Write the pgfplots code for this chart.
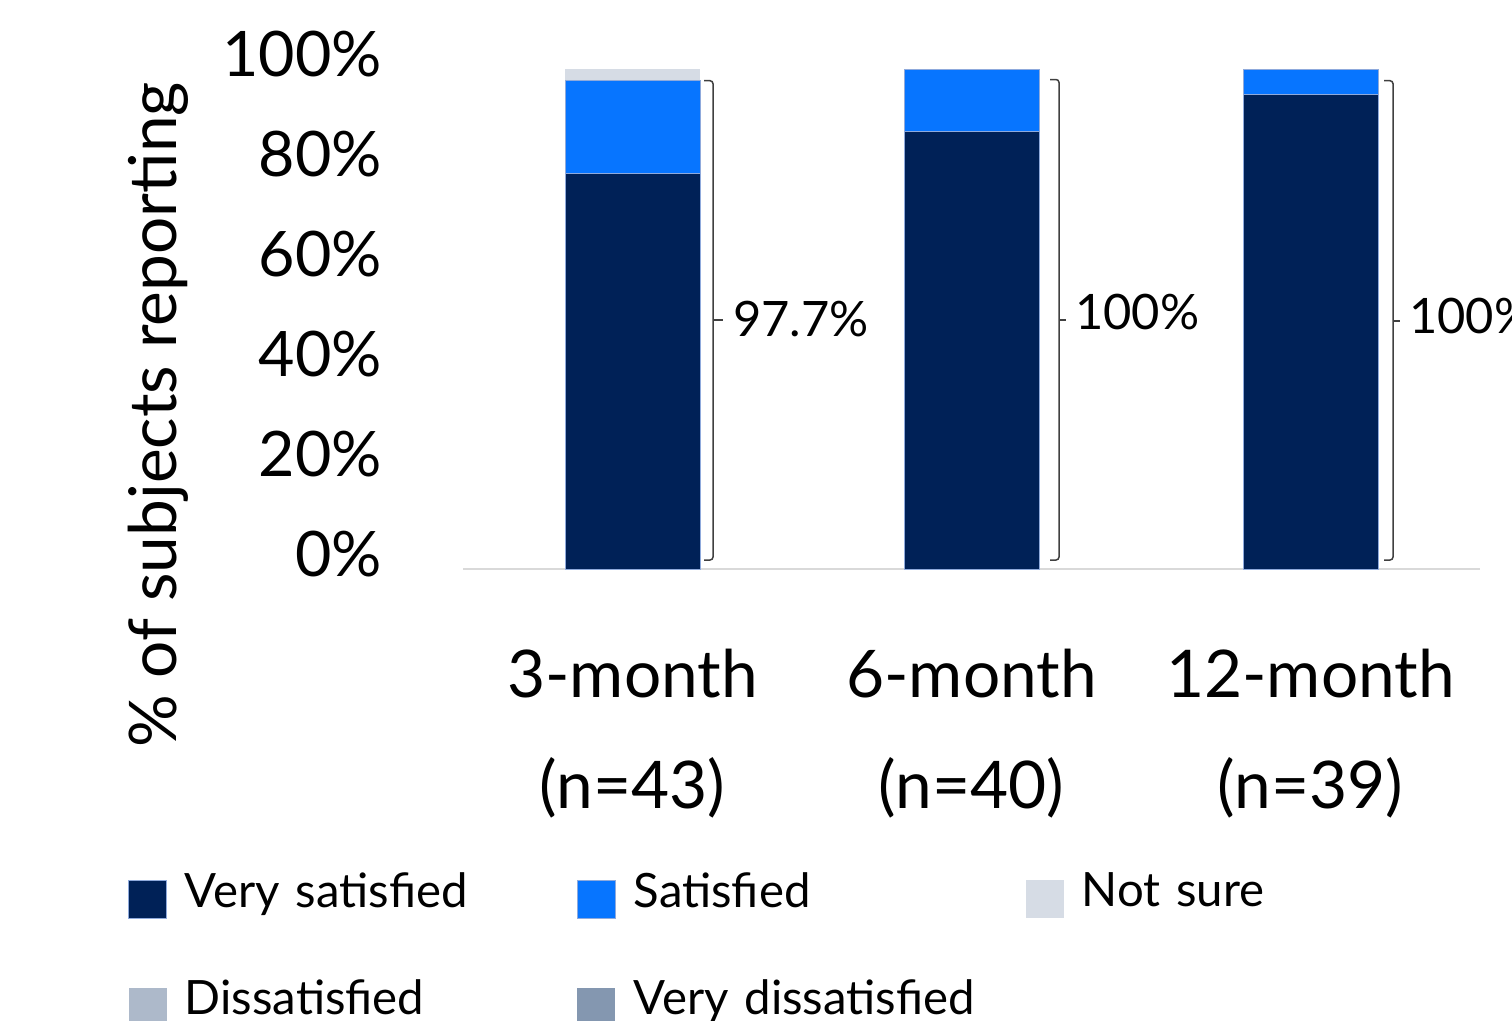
\documentclass[border=0pt]{standalone}
\usepackage{fontspec}
\setmainfont{Lato}
\usepackage{pgfplots}
\pgfplotsset{compat=1.18}

\definecolor{vsat}{HTML}{002157}
\definecolor{sat}{HTML}{0775FF}
\definecolor{notsure}{HTML}{D6DCE5}
\definecolor{dissat}{HTML}{ADB9CA}
\definecolor{vdissat}{HTML}{8497B0}
\definecolor{baredge}{HTML}{8FAADC}
\definecolor{bracecol}{HTML}{404040}
\definecolor{axiscol}{HTML}{D9D9D9}

\pgfplotsset{
  sq legend/.style={legend image code/.code={\fill[##1] (0bp,-28bp) rectangle (38bp,10bp);}},
}
\tikzset{brace/.style={draw=bracecol, line width=1.5bp, rounded corners=3bp}}

\begin{document}
\begin{tikzpicture}
\useasboundingbox (0,0) rectangle (1512bp,-1021bp);
\clip (0,0) rectangle (1512bp,-1021bp);

% y axis title
\node[rotate=90, anchor=base, inner sep=0pt, font=\fontsize{66}{66}\selectfont]
  at (176bp,-415bp) {\% of subjects reporting};

\begin{axis}[
  at={(463bp,-569bp)}, anchor=south west,
  scale only axis, width=1017bp, height=500bp,
  xmin=-0.5, xmax=2.5, ymin=0, ymax=100,
  clip=false,
  ybar stacked, bar width=135bp,
  axis x line*=bottom, axis y line*=left,
  x axis line style={draw=axiscol, line width=1.5bp},
  y axis line style={draw=none},
  major tick length=0pt,
  xtick={0,1,2},
  xticklabels={{3-month\\(n=43)},{6-month\\(n=40)},{12-month\\(n=39)}},
  xticklabel style={align=center, anchor=north, inner sep=0pt, yshift=-80bp,
    font=\fontsize{66}{111}\selectfont},
  ytick={0,20,40,60,80,100},
  yticklabels={0\%,20\%,40\%,60\%,80\%,100\%},
  yticklabel style={anchor=east, inner sep=0pt, xshift=-81bp, yshift=14.5bp,
    font=\fontsize{63}{63}\selectfont},
  legend columns=3,
  legend cell align=left,
  legend style={at={(-0.3294,-0.606)}, anchor=north west, draw=none, fill=none,
    inner sep=0pt, row sep=61bp,
    font=\fontsize{47.5}{47.5}\selectfont,
    nodes={inner sep=0pt, text width=392bp, align=left},
    /tikz/every odd column/.append style={column sep=18bp}},
]
% Very satisfied
\addplot[sq legend, fill=vsat, draw=baredge, line width=0.75bp]
  coordinates {(0,79.07) (1,87.5) (2,94.87)};
% Satisfied
\addplot[sq legend, fill=sat, draw=baredge, line width=0.75bp]
  coordinates {(0,18.60) (1,12.5) (2,5.13)};
% Not sure
\addplot[sq legend, fill=notsure, draw=none]
  coordinates {(0,2.33) (1,0) (2,0)};
% Dissatisfied
\addplot[sq legend, fill=dissat, draw=none]
  coordinates {(0,0) (1,0) (2,0)};
% Very dissatisfied
\addplot[sq legend, fill=vdissat, draw=none]
  coordinates {(0,0) (1,0) (2,0)};
\legend{Very satisfied, Satisfied, Not sure, Dissatisfied, Very dissatisfied}

% brackets with totals
\draw[brace] (axis cs:0.211,97.66) -- (axis cs:0.2375,97.66) -- (axis cs:0.2375,1.8) -- (axis cs:0.211,1.8);
\draw[brace] (axis cs:0.2375,49.8) -- (axis cs:0.267,49.8);
\draw[brace] (axis cs:1.2316,97.9) -- (axis cs:1.2581,97.9) -- (axis cs:1.2581,1.8) -- (axis cs:1.2316,1.8);
\draw[brace] (axis cs:1.2581,49.8) -- (axis cs:1.279,49.8);
\draw[brace] (axis cs:2.2168,97.66) -- (axis cs:2.2434,97.66) -- (axis cs:2.2434,1.8) -- (axis cs:2.2168,1.8);
\draw[brace] (axis cs:2.2434,49.6) -- (axis cs:2.264,49.6);
\node[anchor=west, inner sep=0pt, font=\fontsize{49}{49}\selectfont] at (axis cs:0.2965,49.9) {97.7\%};
\node[anchor=west, inner sep=0pt, font=\fontsize{49}{49}\selectfont] at (axis cs:1.305,51.3) {100\%};
\node[anchor=west, inner sep=0pt, font=\fontsize{49}{49}\selectfont] at (axis cs:2.2906,50.6) {100\%};
\end{axis}
\end{tikzpicture}
\end{document}
